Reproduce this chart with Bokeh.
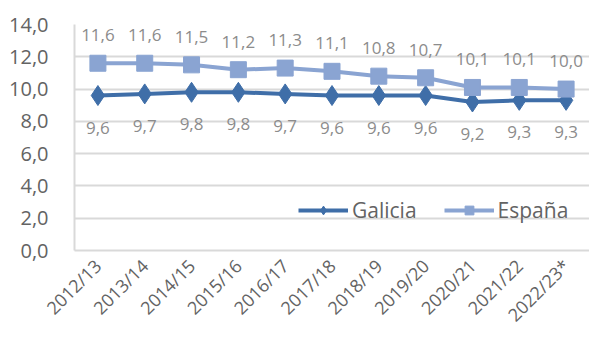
from bokeh.plotting import figure
from bokeh.models import (ColumnDataSource, LabelSet, Legend, LegendItem,
                          FixedTicker, CustomJSTickFormatter, Range1d)
from bokeh.core.properties import value
from bokeh.embed import file_html
from bokeh.resources import INLINE

cursos = ["2012/13", "2013/14", "2014/15", "2015/16", "2016/17", "2017/18",
          "2018/19", "2019/20", "2020/21", "2021/22", "2022/23*"]
galicia = [9.6, 9.7, 9.8, 9.8, 9.7, 9.6, 9.6, 9.6, 9.2, 9.3, 9.3]
espana = [11.6, 11.6, 11.5, 11.2, 11.3, 11.1, 10.8, 10.7, 10.1, 10.1, 10.0]

C_GAL = "#3f6ea8"
C_ESP = "#8aa4d2"
FONT = "Open Sans"
GRID = "#d9d9d9"
TXT = "#636363"


def fmt(v):
    return f"{v:.1f}".replace(".", ",")


src = ColumnDataSource(dict(
    x=cursos, gal=galicia, esp=espana,
    gal_lbl=[fmt(v) for v in galicia],
    esp_lbl=[fmt(v) for v in espana],
))

p = figure(x_range=cursos, y_range=Range1d(0, 14), width=589, height=350,
           output_backend="svg", toolbar_location=None,
           min_border_left=74, min_border_right=0,
           min_border_top=24, min_border_bottom=100)
p.outline_line_color = None
p.x_range.range_padding = 0

# Lines and markers
g_line = p.line("x", "gal", source=src, line_color=C_GAL, line_width=4)
g_mark = p.scatter("x", "gal", source=src, marker="diamond", size=20,
                   fill_color=C_GAL, line_color=C_GAL)
e_line = p.line("x", "esp", source=src, line_color=C_ESP, line_width=4)
e_mark = p.scatter("x", "esp", source=src, marker="square", size=16,
                   fill_color=C_ESP, line_color=C_ESP)

# Value labels
p.add_layout(LabelSet(x="x", y="esp", text="esp_lbl", source=src,
                      text_align="center", text_baseline="middle", y_offset=28,
                      text_font=value(FONT), text_font_size="17px",
                      text_color="#8c8c8c"))
p.add_layout(LabelSet(x="x", y="gal", text="gal_lbl", source=src,
                      text_align="center", text_baseline="middle", y_offset=-32,
                      text_font=value(FONT), text_font_size="17px",
                      text_color="#8c8c8c"))

# Axes
p.yaxis.ticker = FixedTicker(ticks=[0, 2, 4, 6, 8, 10, 12, 14])
p.yaxis.formatter = CustomJSTickFormatter(
    code="return tick.toFixed(1).replace('.', ',');")
p.yaxis.major_label_text_font = FONT
p.yaxis.major_label_text_font_size = "20px"
p.yaxis.major_label_text_color = TXT
p.yaxis.axis_line_color = GRID
p.yaxis.axis_line_width = 2
p.yaxis.major_tick_line_color = None
p.yaxis.minor_tick_line_color = None
p.yaxis.major_label_standoff = 20

p.xaxis.major_label_orientation = 0.785
p.xaxis.major_label_text_font = FONT
p.xaxis.major_label_text_font_size = "18px"
p.xaxis.major_label_text_color = TXT
p.xaxis.axis_line_color = GRID
p.xaxis.axis_line_width = 2
p.xaxis.major_tick_line_color = None
p.xaxis.minor_tick_line_color = None
p.xaxis.major_label_standoff = 6

p.xgrid.grid_line_color = None
p.ygrid.grid_line_color = GRID
p.ygrid.grid_line_width = 2

legend = Legend(items=[
    LegendItem(label="Galicia", renderers=[g_line, g_mark]),
    LegendItem(label="España", renderers=[e_line, e_mark]),
], orientation="horizontal", location=(224, 26),
    label_text_font=FONT, label_text_font_size="21px",
    label_text_color=TXT, glyph_width=50, glyph_height=22,
    spacing=27, padding=0, margin=0, label_standoff=4,
    background_fill_alpha=0, border_line_color=None)
p.add_layout(legend)

open("out.html", "w").write(file_html(p, INLINE))
